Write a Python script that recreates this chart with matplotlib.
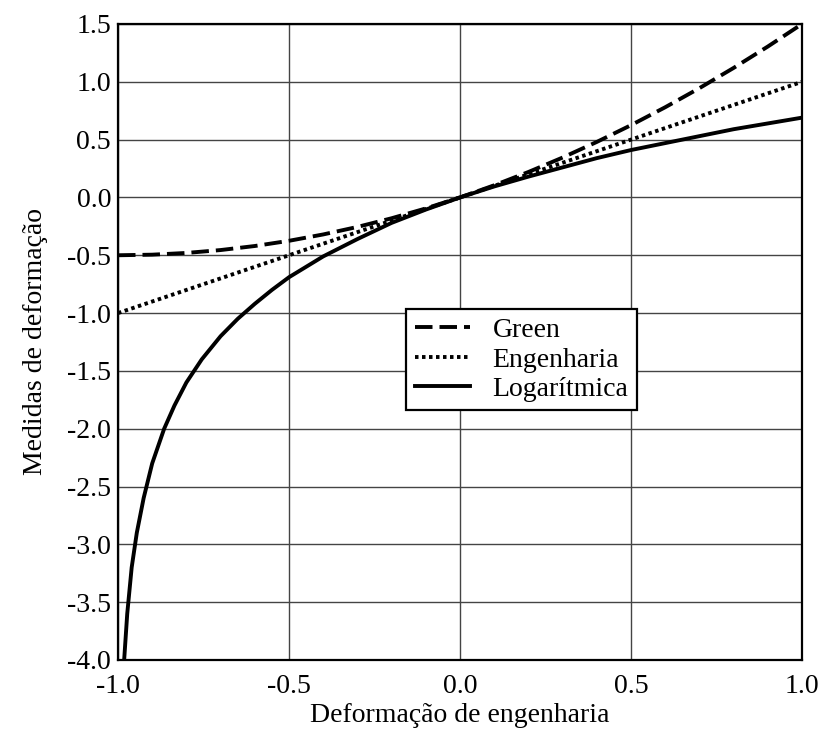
import matplotlib
matplotlib.use('Agg')
import matplotlib.pyplot as plt
from matplotlib.ticker import FormatStrFormatter

# valores
x_green = [-1.0, -0.9, -0.8, -0.7, -0.6, -0.5, -0.4, -0.3, -0.2, -0.1, 0.0,
           0.1, 0.2, 0.3, 0.4, 0.5, 0.6, 0.7, 0.8, 0.9, 1.0]
y_green = [-0.5, -0.495, -0.48, -0.455, -0.42, -0.375, -0.32, -0.255, -0.18, -0.095, 0.0,
           0.105, 0.22, 0.345, 0.48, 0.625, 0.78, 0.945, 1.12, 1.305, 1.5]

x_eng = [-1.0, -0.5, 0.0, 0.5, 1.0]
y_eng = [-1.0, -0.5, 0.0, 0.5, 1.0]

x_log = [-0.982, -0.973, -0.96, -0.945, -0.925, -0.90, -0.865, -0.835, -0.80, -0.755,
         -0.70, -0.65, -0.60, -0.55, -0.50, -0.45, -0.40, -0.30, -0.20, -0.10, 0.0,
         0.1, 0.2, 0.3, 0.4, 0.5, 0.6, 0.7, 0.8, 0.9, 1.0]
y_log = [-4.0, -3.6, -3.2, -2.9, -2.6, -2.3, -2.0, -1.8, -1.6, -1.4,
         -1.2, -1.05, -0.92, -0.8, -0.69, -0.6, -0.51, -0.36, -0.22, -0.105, 0.0,
         0.095, 0.18, 0.26, 0.34, 0.41, 0.47, 0.53, 0.59, 0.64, 0.69]

x_ticks = [-1.0, -0.5, 0.0, 0.5, 1.0]
y_ticks = [-4.0, -3.5, -3.0, -2.5, -2.0, -1.5, -1.0, -0.5, 0.0, 0.5, 1.0, 1.5]

plt.rcParams['font.family'] = ['Liberation Serif', 'DejaVu Serif']
plt.rcParams['axes.unicode_minus'] = False

fig = plt.figure(figsize=(8.24, 7.36), dpi=100)
ax = fig.add_axes([0.1432, 0.1033, 0.8301, 0.8641])

ax.plot(x_green, y_green, color='black', lw=2.8, dashes=(4.5, 1.8), label='Green')
ax.plot(x_eng, y_eng, color='black', lw=2.8, dashes=(0.9, 0.9), label='Engenharia')
ax.plot(x_log, y_log, color='black', lw=2.8, label='Logarítmica')

ax.set_xlim(-1, 1)
ax.set_ylim(-4, 1.5)
ax.set_xticks(x_ticks)
ax.set_yticks(y_ticks)
ax.xaxis.set_major_formatter(FormatStrFormatter('%.1f'))
ax.yaxis.set_major_formatter(FormatStrFormatter('%.1f'))
ax.tick_params(length=0, labelsize=20)
ax.tick_params(axis='x', pad=10)
ax.tick_params(axis='y', pad=5)
ax.grid(True, color='#444444', lw=1)
for s in ax.spines.values():
    s.set_linewidth(1.6)

ax.set_xlabel('Deformação de engenharia', fontsize=20, labelpad=3)
ax.set_ylabel('Medidas de deformação', fontsize=20, labelpad=14)

leg = ax.legend(loc='center', bbox_to_anchor=(0.59, 0.472), fontsize=20,
                fancybox=False, framealpha=1, edgecolor='black',
                handlelength=2.0, borderpad=0.3, labelspacing=0.15)
leg.get_frame().set_linewidth(1.6)

plt.savefig('out.png', dpi=100)
